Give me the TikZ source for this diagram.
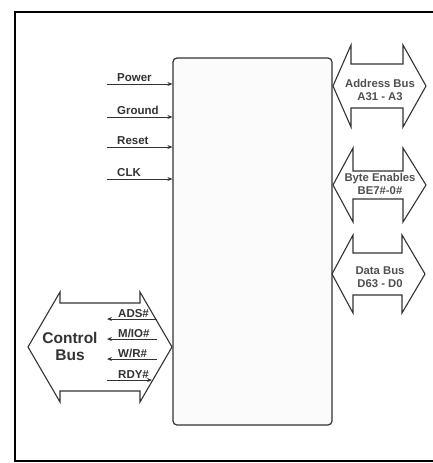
\documentclass[tikz,border=0pt]{standalone}
\usepackage{fontspec}
\setmainfont{Liberation Sans}
\usetikzlibrary{arrows.meta}
\definecolor{ink}{HTML}{333333}
\definecolor{soft}{HTML}{505050}
\begin{document}
\begin{tikzpicture}[x=1pt,y=-1pt,
  frame/.style={draw=black,line width=1.6pt},
  mainbox/.style={draw=ink,line width=1.2pt,rounded corners=4pt,fill=gray!3,inner sep=0pt,minimum width=159pt,minimum height=367pt},
  busshape/.style={draw=ink,line width=1.1pt,fill=white,line join=miter},
  bustext/.style={font=\bfseries\fontsize{11.3}{13.5}\selectfont,text=soft,align=center,inner sep=0pt},
  ctltext/.style={font=\bfseries\fontsize{15.5}{17}\selectfont,text=ink,align=center,inner sep=0pt},
  siglabel/.style={font=\bfseries\fontsize{11.5}{13}\selectfont,text=ink,inner sep=0pt,anchor=base west},
  sig/.style={draw=ink,line width=1pt,-{Stealth[length=5pt,width=4pt]}},
]
\useasboundingbox (0,0) rectangle (433,463);
\clip (0,0) rectangle (433,463);
\fill[white] (0,0) rectangle (433,463);
\draw[frame] (15,12) rectangle (450,461);

% main processor box
\node[mainbox] (main) at (252.5,241.5) {};

% left input signals
\node[siglabel] (power) at (117,81) {Power};
\coordinate (powerS) at (107,84);
\draw[sig] (powerS) -- (powerS -| main.west);
\node[siglabel] (ground) at (117,114) {Ground};
\coordinate (groundS) at (107,117);
\draw[sig] (groundS) -- (groundS -| main.west);
\node[siglabel] (reset) at (117,144) {Reset};
\coordinate (resetS) at (107,147);
\draw[sig] (resetS) -- (resetS -| main.west);
\node[siglabel] (clk) at (117,176) {CLK};
\coordinate (clkS) at (107,179);
\draw[sig] (clkS) -- (clkS -| main.west);

% address bus
\draw[busshape] (333,86) -- (351,45) -- (351,64) -- (403,64) -- (403,45) -- (426,86)
  -- (403,127) -- (403,108) -- (351,108) -- (351,127) -- cycle;
\node[bustext] (addr) at (380,90) {Address Bus\\A31 - A3};

% byte enables
\draw[busshape] (333,185) -- (353,148) -- (353,171) -- (403,171) -- (403,148) -- (426,185)
  -- (403,222) -- (403,199) -- (353,199) -- (353,222) -- cycle;
\node[bustext] (be) at (380,184) {Byte Enables\\BE7\#-0\#};

% data bus
\draw[busshape] (332,274) -- (353,235) -- (353,253) -- (402,253) -- (402,235) -- (425,274)
  -- (402,313) -- (402,295) -- (353,295) -- (353,313) -- cycle;
\node[bustext] (data) at (380,277) {Data Bus\\D63 - D0};

% control bus
\draw[busshape] (28,347) -- (60,292) -- (60,303) -- (140,303) -- (140,292) -- (172,347)
  -- (140,402) -- (140,391) -- (60,391) -- (60,402) -- cycle;
\node[ctltext] (ctl) at (70,346) {Control\\Bus};

\node[siglabel] (ads) at (118,317) {ADS\#};
\coordinate (adsR) at (157,319);
\coordinate (adsL) at (107,319);
\draw[sig] (adsR) -- (adsL);
\node[siglabel] (mio) at (118,337) {M/IO\#};
\coordinate (mioR) at (157,339);
\coordinate (mioL) at (107,339);
\draw[sig] (mioR) -- (mioL);
\node[siglabel] (wr) at (118,357) {W/R\#};
\coordinate (wrR) at (157,359);
\coordinate (wrL) at (107,359);
\draw[sig] (wrR) -- (wrL);
\node[siglabel] (rdy) at (118,378) {RDY\#};
\coordinate (rdyL) at (107,380);
\coordinate (rdyR) at (152,380);
\draw[sig] (rdyL) -- (rdyR);
\end{tikzpicture}
\end{document}
